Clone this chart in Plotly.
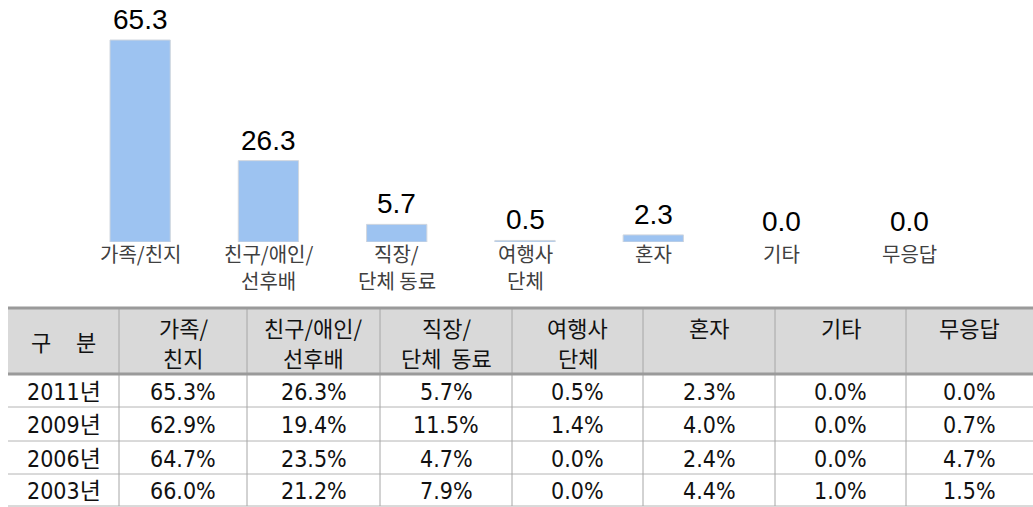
import plotly.graph_objects as go

# ---------------- data ----------------
chart_labels = ["가족/친지", "친구/애인/<br>선후배", "직장/<br>단체 동료", "여행사<br>단체", "혼자", "기타", "무응답"]
header_labels = ["구\u00a0\u00a0\u00a0\u00a0\u00a0분", "가족/<br>친지", "친구/애인/<br>선후배", "직장/<br>단체\u00a0\u00a0동료",
                 "여행사<br>단체", "혼자", "기타", "무응답"]
years = ["2011년", "2009년", "2006년", "2003년"]
family = [65.3, 62.9, 64.7, 66.0]
friends = [26.3, 19.4, 23.5, 21.2]
coworkers = [5.7, 11.5, 4.7, 7.9]
agency = [0.5, 1.4, 0.0, 0.0]
alone = [2.3, 4.0, 2.4, 4.4]
other = [0.0, 0.0, 0.0, 1.0]
no_answer = [0.0, 0.7, 4.7, 1.5]
series = [family, friends, coworkers, agency, alone, other, no_answer]
values_2011 = [s[0] for s in series]

# ---------------- layout helpers ----------------
W, H = 1033, 507
def px_x(x): return x / W
def px_y(y): return 1 - y / H

BAR_COLOR = "#9DC3F1"
base_y = 242
top_y_range = 65.3 * base_y / 202.0

fig = go.Figure()
fig.add_trace(go.Bar(
    x=chart_labels, y=values_2011,
    marker=dict(color=BAR_COLOR,
                line=dict(color="#D0D6DE", width=[1 if v > 0 else 0 for v in values_2011])),
    width=0.47, hoverinfo="skip", showlegend=False,
))

annotations = []
for lab, v in zip(chart_labels, values_2011):
    annotations.append(dict(x=lab, y=v, xref="x", yref="y", text=f"{v:.1f}",
                            showarrow=False, yanchor="bottom", yshift=3,
                            font=dict(family="Liberation Sans, Arial", size=28, color="#000000")))
    for j, line in enumerate(lab.split("<br>")):
        annotations.append(dict(x=lab, y=0, xref="x", yref="y", text=line,
                                showarrow=False, yanchor="middle", yshift=-11 - 27 * j,
                                font=dict(family="Noto Sans CJK KR", size=20, color="#404040")))

# ---------------- table (layout constants in pixels) ----------------
col_edges = [8, 119, 247, 380, 512, 643, 775, 906, 1033]
table_top, header_bottom = 308, 374
row_edges = [374, 407, 441, 474, 506]
num_font = "DejaVu Sans Condensed, Noto Sans CJK KR"
hdr_font = dict(family="Noto Sans CJK KR", size=22, color="#111111")

shapes = [
    dict(type="rect", xref="paper", yref="paper", x0=px_x(col_edges[0]), x1=1,
         y0=px_y(header_bottom), y1=px_y(table_top), fillcolor="#D9D9D9", line=dict(width=0), layer="below"),
]
for r in row_edges[1:]:
    shapes.append(dict(type="line", xref="paper", yref="paper", x0=px_x(col_edges[0]), x1=1,
                       y0=px_y(r), y1=px_y(r), line=dict(color="#B4B4B4", width=1)))
for c in col_edges[1:-1]:
    shapes.append(dict(type="line", xref="paper", yref="paper", x0=px_x(c), x1=px_x(c),
                       y0=px_y(row_edges[-1]), y1=px_y(table_top), line=dict(color="#A6A6A6", width=1)))
for r in (table_top, header_bottom):
    shapes.append(dict(type="line", xref="paper", yref="paper", x0=px_x(col_edges[0]), x1=1,
                       y0=px_y(r), y1=px_y(r), line=dict(color="#9A9A9A", width=3)))

# header texts
for ci, h in enumerate(header_labels):
    xc = px_x((col_edges[ci] + col_edges[ci + 1]) / 2)
    lines = h.split("<br>")
    if ci == 0:
        annotations.append(dict(x=xc, y=px_y((table_top + header_bottom) / 2), xref="paper", yref="paper",
                                text=h, showarrow=False, xanchor="center", yanchor="middle", font=hdr_font))
    else:
        for j, line in enumerate(lines):
            annotations.append(dict(x=xc, y=px_y(327 + 30 * j), xref="paper", yref="paper",
                                    text=line, showarrow=False, xanchor="center", yanchor="middle",
                                    font=hdr_font))

# body texts
cell_values = [years] + [[f"{v:.1f}%" for v in s] for s in series]
for ci, col in enumerate(cell_values):
    xc = px_x((col_edges[ci] + col_edges[ci + 1]) / 2)
    for ri, txt in enumerate(col):
        yc = px_y((row_edges[ri] + row_edges[ri + 1]) / 2 + 1)
        annotations.append(dict(x=xc, y=yc, xref="paper", yref="paper", text=txt, showarrow=False,
                                xanchor="center", yanchor="middle",
                                font=dict(family=num_font, size=23, color="#111111")))

fig.update_layout(
    width=W, height=H, margin=dict(l=0, r=0, t=0, b=0),
    paper_bgcolor="white", plot_bgcolor="white",
    xaxis=dict(domain=[px_x(76), px_x(974)], range=[-0.5, 6.5], showticklabels=False,
               showgrid=False, zeroline=False, showline=False, ticks=""),
    yaxis=dict(domain=[px_y(base_y), 1], range=[0, top_y_range], showticklabels=False,
               showgrid=False, zeroline=False, showline=False, ticks=""),
    annotations=annotations, shapes=shapes, bargap=0.53,
)

fig.write_html("out.html", config={"displayModeBar": False},
               post_script="document.body.style.margin='0';document.body.style.overflow='hidden';")
